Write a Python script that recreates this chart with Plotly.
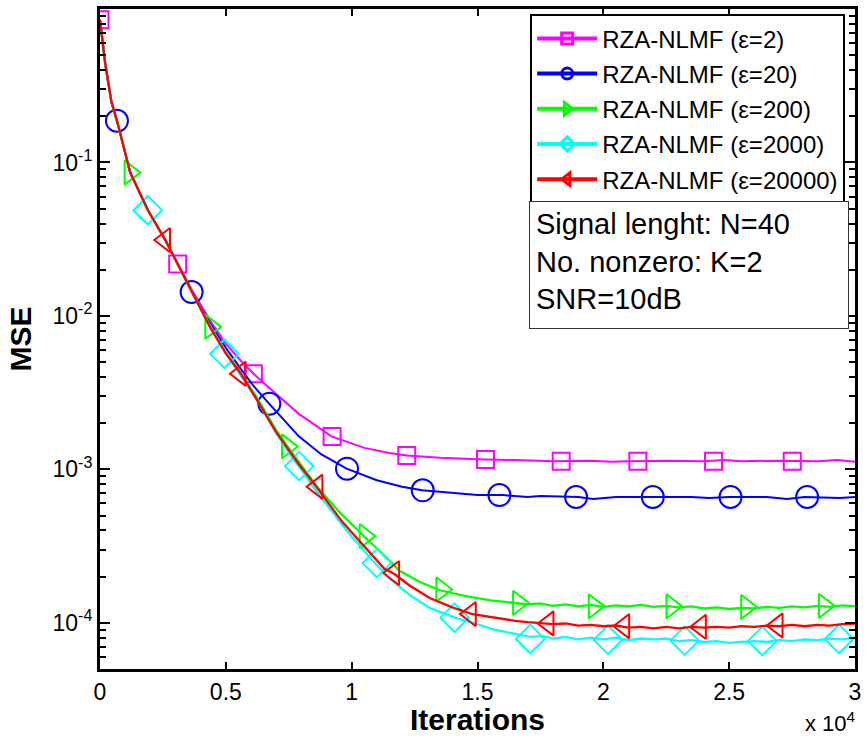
import plotly.graph_objects as go

# ---------------- data ----------------
names = ["RZA-NLMF (ε=2)", "RZA-NLMF (ε=20)", "RZA-NLMF (ε=200)",
         "RZA-NLMF (ε=2000)", "RZA-NLMF (ε=20000)"]
colors = ["#FF00FF", "#0000FF", "#00FF00", "#00FFFF", "#FF0000"]
symbols = ["square-open", "circle-open", "triangle-right-open",
           "diamond-open", "triangle-left-open"]
msizes = [17, 22, 21, 22, 21]
lwidths = [2, 2, 2.3, 2.3, 2.3]

# eps = 2
x_e2 = [0, 200, 450, 700, 1200, 1900, 2600, 3100, 3650, 4400, 5000, 5600, 6100, 7000,
        7900, 9200, 10500, 11500, 12200, 13500, 14500, 15300, 16500, 17200, 18000,
        19500, 20300, 21000, 22500, 24000, 24800, 25500, 27000, 28500, 29300, 30000]
y_e2 = [0.85, 0.45, 0.25, 0.18, 0.086, 0.049, 0.031, 0.0218, 0.0148, 0.0092, 0.0066,
        0.0051, 0.0042, 0.0031, 0.0023, 0.00164, 0.00138, 0.00128, 0.00123, 0.00119,
        0.00117, 0.00116, 0.00115, 0.00114, 0.00113, 0.00114, 0.00112, 0.00113,
        0.00114, 0.00113, 0.00115, 0.00113, 0.00114, 0.00113, 0.00115, 0.00112]
mx_e2 = [0, 3087, 6095, 9222, 12190, 15317, 18325, 21372, 24380, 27507]
my_e2 = [0.85, 0.0218, 0.0042, 0.00164, 0.00123, 0.00116, 0.00113, 0.00113, 0.00113, 0.00113]

# eps = 20
x_e20 = [0, 200, 450, 700, 1200, 1900, 2600, 3100, 3650, 4400, 5000, 5600, 6100, 6700,
         7900, 8800, 9800, 11000, 12000, 12800, 14000, 15000, 16000, 17000, 17500,
         19000, 19600, 20500, 22000, 23500, 24200, 25000, 26500, 27300, 28000, 29400, 30000]
y_e20 = [0.85, 0.45, 0.25, 0.18, 0.086, 0.049, 0.031, 0.0216, 0.0143, 0.0088, 0.0062,
         0.0045, 0.0035, 0.0027, 0.00164, 0.00125, 0.00101, 0.00085, 0.00077, 0.00073,
         0.00070, 0.00068, 0.00068, 0.00066, 0.00067, 0.00066, 0.00064, 0.00066,
         0.00066, 0.00066, 0.00065, 0.00066, 0.00066, 0.00064, 0.00066, 0.00065, 0.00066]
mx_e20 = [673, 3641, 6728, 9815, 12823, 15871, 18918, 21966, 25053, 28100]
my_e20 = [0.187, 0.0143, 0.00268, 0.00101, 0.00073, 0.00068, 0.00066, 0.00066, 0.00066, 0.00066]

# eps = 200
x_e200 = [0, 200, 450, 700, 1200, 1900, 2600, 3100, 3650, 4400, 5000, 5600, 6200, 7000,
          7450, 8600, 9500, 10500, 11200, 11900, 12700, 13500, 14500, 15500, 16500,
          17000, 17500, 18000, 18500, 19000, 19500, 20000, 20500, 21000, 21500, 22000,
          22500, 23000, 23500, 24000, 24500, 25000, 25500, 26000, 26500, 27000, 27500,
          28000, 28500, 29000, 29500, 30000]
y_e200 = [0.85, 0.45, 0.25, 0.18, 0.086, 0.049, 0.031, 0.0215, 0.0143, 0.0085, 0.0058,
          0.0042, 0.0030, 0.00180, 0.00141, 0.00078, 0.00053, 0.000365, 0.000285,
          0.000218, 0.000185, 0.000163, 0.000150, 0.000140, 0.000135, 0.000132,
          0.000134, 0.000129, 0.000132, 0.000128, 0.000131, 0.000127, 0.000130,
          0.000128, 0.000131, 0.000127, 0.000129, 0.000126, 0.000128, 0.000124,
          0.000126, 0.000123, 0.000125, 0.000124, 0.000127, 0.000125, 0.000128,
          0.000126, 0.000129, 0.000127, 0.000130, 0.000128]
mx_e200 = [1187, 4393, 7441, 10528, 13575, 16623, 19631, 22718, 25686, 28773]
my_e200 = [0.086, 0.0085, 0.00141, 0.000367, 0.000165, 0.000135, 0.000128, 0.000128,
           0.000127, 0.000129]

# eps = 2000
x_e2000 = [0, 200, 450, 700, 1200, 1900, 2600, 3100, 3650, 4400, 5000, 5600, 6200, 7000,
           7700, 7900, 8600, 9800, 10850, 11500, 12300, 13100, 14100, 14900, 15600,
           16300, 17100, 17600, 18000, 18500, 19000, 19500, 20000, 20500, 21000, 21500,
           22000, 22500, 23000, 23500, 24000, 24500, 25000, 25500, 26000, 26500, 27000,
           27500, 28000, 28500, 29000, 29500, 30000]
y_e2000 = [0.85, 0.45, 0.25, 0.18, 0.086, 0.0488, 0.031, 0.0214, 0.0142, 0.0083,
           0.0057, 0.0041, 0.0029, 0.00172, 0.00115, 0.00105, 0.00072, 0.00040,
           0.000253, 0.000195, 0.000152, 0.000125, 0.000108, 0.000099, 0.000091,
           0.000086, 0.000081, 0.000082, 0.000079, 0.000081, 0.000078, 0.000080,
           0.000078, 0.000080, 0.000077, 0.000079, 0.000078, 0.000079, 0.000076,
           0.000077, 0.000075, 0.000076, 0.000074, 0.000075, 0.000076, 0.000075,
           0.000077, 0.000076, 0.000078, 0.000077, 0.000079, 0.000078, 0.000080]
mx_e2000 = [1900, 4947, 7916, 11003, 14090, 17098, 20185, 23232, 26319, 29367]
my_e2000 = [0.0488, 0.00567, 0.00105, 0.000245, 0.000108, 0.0000785, 0.0000775,
            0.0000765, 0.0000760, 0.0000785]

# eps = 20000
x_e20000 = [0, 200, 450, 700, 1200, 1900, 2600, 3100, 3650, 4400, 5000, 5600, 6200,
            7000, 7900, 8600, 9600, 10500, 11300, 11700, 12300, 13100, 14000, 14800,
            15500, 16000, 16500, 17000, 17500, 18000, 18500, 19000, 19500, 20000,
            20500, 21000, 21500, 22000, 22500, 23000, 23500, 24000, 24500, 25000,
            25500, 26000, 26500, 27000, 27500, 28000, 28500, 29000, 29500, 30000]
y_e20000 = [0.85, 0.45, 0.25, 0.18, 0.086, 0.049, 0.0312, 0.0215, 0.0142, 0.0083,
            0.0057, 0.0042, 0.0029, 0.00175, 0.00108, 0.00077, 0.00046, 0.000315,
            0.000225, 0.000208, 0.000175, 0.000145, 0.000126, 0.000114, 0.000109,
            0.000106, 0.000103, 0.000101, 0.000099, 0.000098, 0.000099, 0.000096,
            0.000097, 0.000095, 0.000096, 0.000093, 0.000094, 0.000092, 0.000094,
            0.000092, 0.000094, 0.000093, 0.000094, 0.000093, 0.000095, 0.000094,
            0.000096, 0.000095, 0.000097, 0.000095, 0.000097, 0.000096, 0.000098,
            0.000099]
mx_e20000 = [2573, 5580, 8628, 11675, 14723, 17810, 20818, 23865, 26913]
my_e20000 = [0.0312, 0.0042, 0.00077, 0.000211, 0.000114, 0.000099, 0.000095,
             0.000094, 0.000096]

lines_x = [x_e2, x_e20, x_e200, x_e2000, x_e20000]
lines_y = [y_e2, y_e20, y_e200, y_e2000, y_e20000]
marks_x = [mx_e2, mx_e20, mx_e200, mx_e2000, mx_e20000]
marks_y = [my_e2, my_e20, my_e200, my_e2000, my_e20000]

x_tickvals = [0, 5000, 10000, 15000, 20000, 25000, 30000]
x_ticktext = ["0", "0.5", "1", "1.5", "2", "2.5", "3"]
y_tickvals = [1e-4, 1e-3, 1e-2, 1e-1]
y_ticktext = ["10<sup>-4</sup>", "10<sup>-3</sup>", "10<sup>-2</sup>", "10<sup>-1</sup>"]
y_minor = [k * 10.0 ** e for e in range(-5, 0) for k in range(2, 10)]

info_lines = ["Signal lenght: N=40", "No. nonzero: K=2", "SNR=10dB"]

# ---------------- figure ----------------
FONT = "Liberation Sans, Arial, sans-serif"
fig = go.Figure()

for i in range(5):
    fig.add_trace(go.Scatter(
        x=lines_x[i], y=lines_y[i], mode="lines",
        line=dict(color=colors[i], width=lwidths[i]), showlegend=False, hoverinfo="skip"))
    fig.add_trace(go.Scatter(
        x=marks_x[i], y=marks_y[i], mode="markers",
        marker=dict(symbol=symbols[i], size=msizes[i], color=colors[i],
                    line=dict(color=colors[i], width=2)),
        showlegend=False, hoverinfo="skip"))

# legend entries
for i in range(5):
    fig.add_trace(go.Scatter(
        x=[None], y=[None], mode="lines+markers", name=names[i],
        legendgroup="g%d" % i,
        line=dict(color=colors[i], width=4),
        marker=dict(symbol=symbols[i], size=11, color=colors[i],
                    line=dict(color=colors[i], width=3))))

fig.update_layout(
    width=867, height=742,
    margin=dict(l=100, r=9, t=6, b=73),
    paper_bgcolor="white", plot_bgcolor="white",
    font=dict(family=FONT, color="black", size=22),
    showlegend=True,
    legend=dict(
        x=0.987, y=0.992, xanchor="right", yanchor="top",
        bgcolor="white", bordercolor="black", borderwidth=2,
        font=dict(family=FONT, size=24, color="black"),
        itemwidth=60, traceorder="grouped", tracegroupgap=1,
    ),
    xaxis=dict(
        range=[0, 30000], tickmode="array", tickvals=x_tickvals, ticktext=x_ticktext,
        ticks="inside", ticklen=7, tickwidth=1.5, tickcolor="black",
        showline=True, linecolor="black", linewidth=3, mirror="allticks",
        showgrid=False, zeroline=False,
        tickfont=dict(family=FONT, size=23),
    ),
    yaxis=dict(
        type="log", range=[-4.301, 0], tickmode="array", tickvals=y_tickvals,
        ticktext=y_ticktext,
        ticks="inside", ticklen=10, tickwidth=1.5, tickcolor="black",
        minor=dict(tickmode="array", tickvals=y_minor, ticks="inside", ticklen=6,
                   tickwidth=1.5, tickcolor="black", showgrid=False),
        showline=True, linecolor="black", linewidth=3, mirror="allticks",
        showgrid=False, zeroline=False,
        tickfont=dict(family=FONT, size=23),
        title=dict(text="<b>MSE</b>", font=dict(family=FONT, size=30), standoff=12),
    ),
)

# x-axis title
fig.add_annotation(
    xref="paper", yref="paper", x=0.5, y=-0.077, xanchor="center", yanchor="middle",
    text="<b>Iterations</b>", showarrow=False,
    font=dict(family=FONT, size=30, color="black"),
)

fig.add_annotation(
    xref="paper", yref="paper", x=0.568, y=0.709, xanchor="left", yanchor="top",
    text="<br>".join(info_lines), showarrow=False, align="left",
    font=dict(family=FONT, size=29, color="black"),
    bordercolor="#333333", borderwidth=1, borderpad=6, bgcolor="white",
    width=306, height=114, valign="top",
)

fig.add_annotation(
    xref="paper", yref="paper", x=1.004, y=-0.08, xanchor="right", yanchor="middle",
    text="x 10<sup>4</sup>", showarrow=False,
    font=dict(family=FONT, size=22, color="black"),
)

fig.write_html("out.html", config={"displayModeBar": False},
               post_script="document.body.style.margin='0px';")
